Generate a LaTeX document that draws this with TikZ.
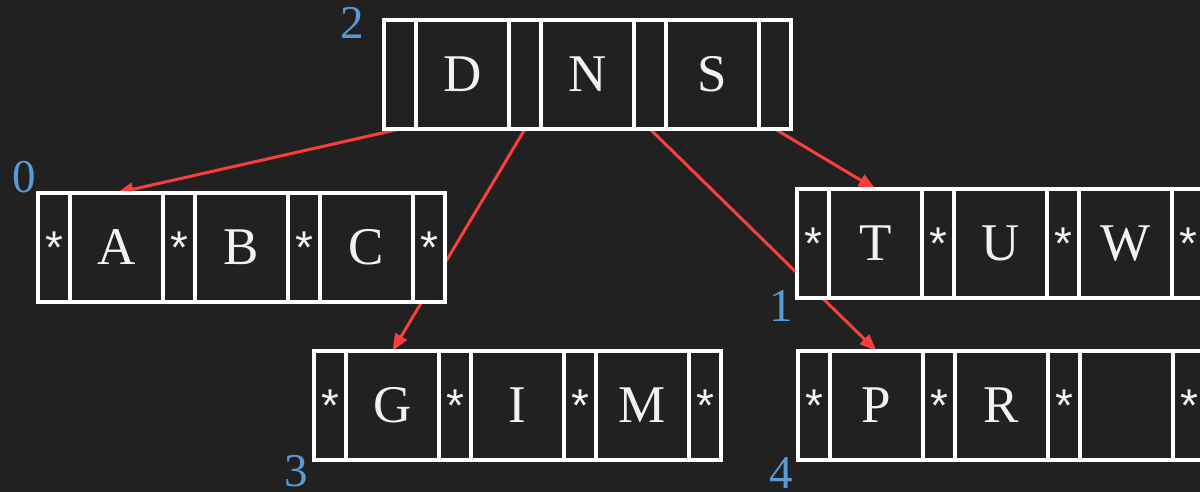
\documentclass[tikz,border=0pt]{standalone}
\usepackage{fontspec}
\setmainfont{Liberation Serif}
\newfontfamily\keyfont{Liberation Serif}
\newfontfamily\astfont{Liberation Sans}
\usetikzlibrary{arrows.meta}
\definecolor{bgc}{RGB}{33,33,33}
\definecolor{redc}{RGB}{250,62,62}
\definecolor{bluec}{RGB}{91,155,213}
\definecolor{keytext}{RGB}{240,242,244}
\pgfdeclarelayer{bglayer}
\pgfdeclarelayer{arrowlayer}
\pgfsetlayers{bglayer,arrowlayer,main}
\tikzset{
  cell/.style={draw=white, line width=4pt, fill=bgc, outer sep=0pt, inner sep=0pt,
    minimum height=109pt, text=keytext},
  ptrcell/.style={cell, minimum width=32pt, font=\astfont\fontsize{46}{46}\selectfont},
  keycell/.style={cell, minimum width=93pt, font=\keyfont\fontsize{53}{53}\selectfont},
  numlabel/.style={text=bluec, font=\keyfont\fontsize{47}{47}\selectfont, inner sep=0pt},
  link/.style={draw=redc, line width=3pt, -{Triangle[length=17pt,width=13pt]}}
}
% #1 name, #2 left x, #3 top y, #4 pointer text, #5-#7 keys
\newcommand\btreenode[7]{%
  \node[ptrcell] (#1-p1) at ({#2+16},{#3+54.5}) {#4};
  \node[keycell] (#1-k1) at ({#2+78.5},{#3+54.5}) {#5};
  \node[ptrcell] (#1-p2) at ({#2+141},{#3+54.5}) {#4};
  \node[keycell] (#1-k2) at ({#2+203.5},{#3+54.5}) {#6};
  \node[ptrcell] (#1-p3) at ({#2+266},{#3+54.5}) {#4};
  \node[keycell] (#1-k3) at ({#2+328.5},{#3+54.5}) {#7};
  \node[ptrcell] (#1-p4) at ({#2+391},{#3+54.5}) {#4};
}
\begin{document}
\begin{tikzpicture}[x=1pt,y=-1pt]
\useasboundingbox (0,0) rectangle (1200,492);
\begin{pgfonlayer}{bglayer}
  \fill[bgc] (0,0) rectangle (1200,492);
\end{pgfonlayer}
\clip (0,0) rectangle (1200,492);
% nodes
\btreenode{root}{384}{20}{}{D}{N}{S}
\btreenode{n0}{38}{193}{*}{A}{B}{C}
\btreenode{n3}{314}{351}{*}{G}{I}{M}
\btreenode{n1}{797}{189}{*}{T}{U}{W}
\btreenode{n4}{798}{351}{*}{P}{R}{}
% page numbers
\node[numlabel] (l2) at (352,23) {2};
\node[numlabel] (l0) at (24,177) {0};
\node[numlabel] (l3) at (296,471) {3};
\node[numlabel] (l1) at (781,306) {1};
\node[numlabel] (l4) at (781,473) {4};
% links
\begin{pgfonlayer}{arrowlayer}
  \draw[link] (root-p1.south) -- (n0-k1.north);
  \draw[link] (root-p2.south) -- (n3-k1.north);
  \draw[link] (root-p3.south) -- (n4-k1.north);
  \draw[link] (root-p4.south) -- (n1-k1.north);
\end{pgfonlayer}
\end{tikzpicture}
\end{document}
